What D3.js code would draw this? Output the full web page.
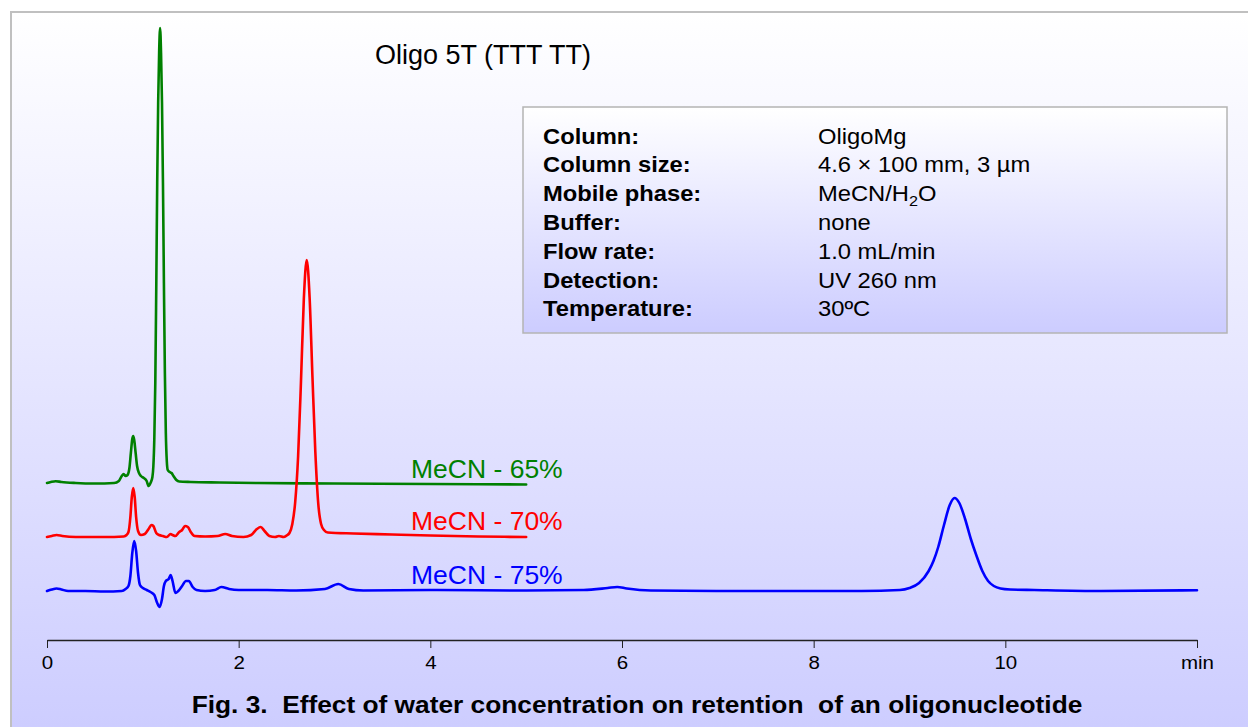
<!DOCTYPE html>
<html>
<head>
<meta charset="utf-8">
<script src="https://cdn.jsdelivr.net/npm/d3@7"></script>
<style>
  html, body { margin: 0; padding: 0; background: #ffffff; }
  svg { display: block; font-family: Arial, "Liberation Sans", sans-serif; }
</style>
</head>
<body>
<svg id="chart" width="1248" height="727"></svg>
<script>
// ---- data (time in min, signal above each trace's own baseline, arbitrary units) ----
const seriesNames = ["MeCN - 65%", "MeCN - 70%", "MeCN - 75%"];
const seriesColors = ["#008000", "#ff0000", "#0000ff"];
const seriesOffsets = [157, 103, 49];

const mecn65 = [
  [0,0],[0.04,1],[0.09,1.8],[0.15,1],[0.3,0],[0.5,-0.5],[0.7,0],[0.75,2],[0.78,7],[0.8,9],[0.82,7],
  [0.84,8],[0.86,15],[0.875,30],[0.89,44],[0.9,47],[0.91,43],[0.925,30],[0.94,17],[0.96,10],[0.98,7],
  [1.01,5],[1.04,2],[1.06,-3],[1.08,0],[1.10,6],[1.11,17],[1.12,45],[1.13,100],[1.14,194],[1.15,300],
  [1.16,380],[1.17,430],[1.18,455],[1.19,430],[1.20,380],[1.21,300],[1.22,200],[1.23,110],[1.24,50],
  [1.25,22],[1.26,13],[1.28,11],[1.30,10],[1.32,7],[1.35,3],[1.38,1.5],[1.5,1],[1.8,0.5],[2.2,0],
  [3,-0.5],[4,-1],[5,-1.5]
];
const mecn70 = [
  [0,0],[0.05,1],[0.1,2],[0.16,1],[0.3,0],[0.6,0],[0.8,0.5],[0.83,2],[0.85,5],[0.87,20],[0.885,40],
  [0.9,49],[0.915,40],[0.93,20],[0.95,6],[0.98,2],[1.02,3],[1.06,8],[1.09,12],[1.11,11],[1.14,4],
  [1.17,2],[1.21,1],[1.25,0],[1.29,3],[1.31,2],[1.34,1],[1.38,5],[1.41,7],[1.44,11],[1.47,10],[1.5,5],
  [1.54,1],[1.65,0.5],[1.78,1],[1.86,3],[1.93,1],[2.05,0],[2.13,2],[2.19,8],[2.23,10],[2.27,6],
  [2.32,1],[2.38,0],[2.42,1],[2.47,0],[2.5,1.5],[2.53,4],[2.56,13],[2.59,35],[2.62,80],[2.65,155],
  [2.68,238],[2.71,277],[2.74,240],[2.77,160],[2.80,85],[2.83,34],[2.86,13],[2.89,7],[2.93,4.5],
  [3.2,3.5],[3.6,2.5],[4.0,1.5],[4.5,0.5],[5,0]
];
const mecn75 = [
  [0,0],[0.05,1.5],[0.1,2.5],[0.15,1.5],[0.22,0],[0.4,0],[0.6,-0.5],[0.78,0],[0.82,2],[0.85,5],
  [0.87,15],[0.89,38],[0.91,50],[0.93,40],[0.95,18],[0.97,6],[1.0,3],[1.04,1],[1.08,-1],[1.12,-4],
  [1.15,-12],[1.175,-16],[1.2,-8],[1.22,5],[1.24,10],[1.27,12],[1.29,16],[1.31,10],[1.34,-2],[1.37,0],
  [1.41,5],[1.45,10],[1.48,10],[1.52,4],[1.56,1],[1.65,0],[1.75,1],[1.82,4],[1.9,2],[2.0,1],[2.3,1],
  [2.6,0.5],[2.9,2],[3.04,7],[3.15,2],[3.3,0.5],[4,1],[5,0.5],[5.6,1],[5.85,3],[5.95,4],[6.05,2.5],
  [6.3,0.5],[7,0],[8,0],[8.5,0],[8.9,1],[9.0,3],[9.1,8],[9.2,20],[9.25,30],[9.3,44],[9.36,66],
  [9.42,86],[9.47,93],[9.52,88],[9.58,72],[9.64,52],[9.7,35],[9.76,20],[9.82,10],[9.88,5],[9.95,2.5],
  [10.05,1.5],[10.3,1],[11,0],[12,0.8]
];
const seriesData = [mecn65, mecn70, mecn75];

const tickValues = [0, 2, 4, 6, 8, 10, 12];
const tickLabels = ["0", "2", "4", "6", "8", "10", "min"];

const chartTitle = "Oligo 5T (TTT TT)";
const caption = "Fig. 3.  Effect of water concentration on retention  of an oligonucleotide";
const infoLabels = ["Column:", "Column size:", "Mobile phase:", "Buffer:", "Flow rate:", "Detection:", "Temperature:"];
const infoValues = ["OligoMg", "4.6 \u00d7 100 mm, 3 \u00b5m", "MeCN/H\u2082O", "none", "1.0 mL/min", "UV 260 nm", "30\u00baC"];

// ---- drawing ----
const svg = d3.select("#chart");
const defs = svg.append("defs");

const bg = defs.append("linearGradient").attr("id", "bgGrad")
  .attr("x1", 0).attr("y1", 0).attr("x2", 0).attr("y2", 1);
bg.append("stop").attr("offset", "0%").attr("stop-color", "#ffffff");
bg.append("stop").attr("offset", "100%").attr("stop-color", "#ccccff");

const boxGrad = defs.append("linearGradient").attr("id", "boxGrad")
  .attr("x1", 0).attr("y1", 0).attr("x2", 0).attr("y2", 1);
boxGrad.append("stop").attr("offset", "0%").attr("stop-color", "#ffffff");
boxGrad.append("stop").attr("offset", "100%").attr("stop-color", "#ccccff");

svg.append("rect").attr("x", 11).attr("y", 12).attr("width", 1250).attr("height", 730)
  .attr("fill", "url(#bgGrad)").attr("stroke", "#c0c0c0").attr("stroke-width", 2);

const x = d3.scaleLinear().domain([0, 12]).range([47, 1197]);
const y = d3.scaleLinear().domain([0, 620]).range([640, 20]);

// axis
const axis = d3.axisBottom(x).tickValues(tickValues)
  .tickFormat((d, i) => tickLabels[i]).tickSize(8).tickSizeOuter(0).tickPadding(8);
const gAxis = svg.append("g").attr("transform", "translate(0,640)").call(axis);
gAxis.select(".domain").attr("stroke", "#222").attr("stroke-width", 1.5);
gAxis.selectAll(".tick line").attr("stroke", "#222").attr("stroke-width", 1);
gAxis.selectAll(".tick text").attr("fill", "#000").attr("font-size", 19)
  .attr("font-family", "Arial, 'Liberation Sans', sans-serif")
  .attr("transform", "scale(1.08,1)");

// traces
const line = d3.line().curve(d3.curveMonotoneX);
seriesData.forEach((data, i) => {
  const off = seriesOffsets[i];
  svg.append("path")
    .attr("d", line.x(d => x(d[0])).y(d => y(d[1] + off))(data))
    .attr("fill", "none").attr("stroke", seriesColors[i])
    .attr("stroke-width", 2.6).attr("stroke-linejoin", "round").attr("stroke-linecap", "round");
});

// series labels
const labelY = [477.5, 530, 584];
seriesNames.forEach((n, i) => {
  svg.append("text").attr("x", 411).attr("y", labelY[i]).text(n)
    .attr("fill", seriesColors[i]).attr("font-size", 26.5);
});

// title
svg.append("text").attr("x", 375).attr("y", 64).text(chartTitle)
  .attr("fill", "#000").attr("font-size", 27);

// info box
svg.append("rect").attr("x", 523).attr("y", 107).attr("width", 704).attr("height", 226)
  .attr("fill", "url(#boxGrad)").attr("stroke", "#b4b4b4").attr("stroke-width", 1.5);
const sx = 1.08;
infoLabels.forEach((l, i) => {
  const yy = 143.5 + i * 28.8;
  svg.append("text").attr("transform", `translate(543,${yy}) scale(${sx},1)`).text(l)
    .attr("font-weight", "bold").attr("font-size", 22).attr("fill", "#000");
  const t = svg.append("text").attr("transform", `translate(818,${yy}) scale(${sx},1)`)
    .attr("font-size", 22).attr("fill", "#000");
  if (infoValues[i].indexOf("\u2082") >= 0) {
    t.append("tspan").text("MeCN/H");
    t.append("tspan").text("2").attr("font-size", 15).attr("dy", 5);
    t.append("tspan").text("O").attr("dy", -5);
  } else {
    t.text(infoValues[i]);
  }
});

// caption
svg.append("text").attr("transform", `translate(637,713) scale(1.096,1)`)
  .attr("text-anchor", "middle").style("white-space", "pre").text(caption)
  .attr("font-weight", "bold").attr("font-size", 24).attr("fill", "#000");
</script>
</body>
</html>
